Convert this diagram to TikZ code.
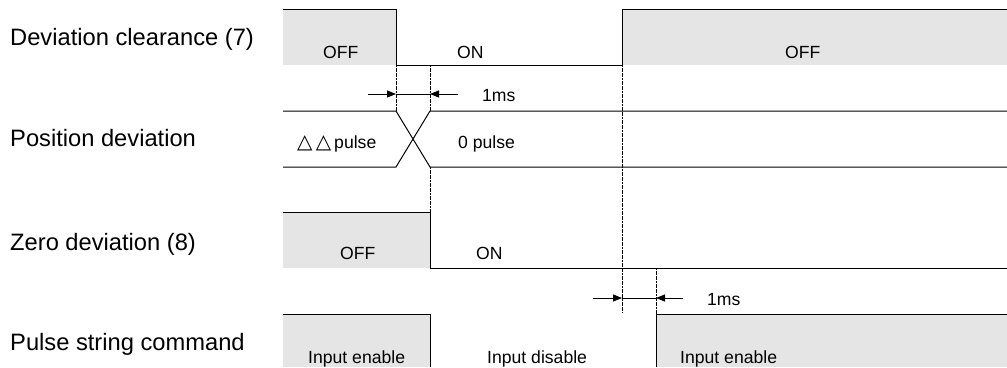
\documentclass[tikz,border=0pt]{standalone}
\usepackage{fontspec}
\setmainfont{Liberation Sans}
\newfontfamily\symfont{DejaVu Sans}
\usetikzlibrary{arrows.meta}
\begin{document}
\begin{tikzpicture}[x=1pt,y=-1pt,
  sig/.style={line width=1pt},
  guide/.style={line width=1pt, dash pattern=on 2pt off 0.6pt},
  shade/.style={fill=gray!20},
  lbl/.style={anchor=base west, inner sep=0pt, font=\fontsize{23.7}{28}\selectfont},
  sm/.style={anchor=base west, inner sep=0pt, font=\fontsize{17.6}{21}\selectfont},
  dimtip/.style={line width=0.8pt, -{Triangle[length=9pt,width=7pt]}},
  dimline/.style={line width=0.8pt}]
\useasboundingbox (0,0) rectangle (1007,367);

% key coordinates
\coordinate (a1) at (396,65);  \coordinate (a2) at (396,111);
\coordinate (b1) at (430,65);  \coordinate (b2) at (430,111);
\coordinate (b3) at (430,167); \coordinate (b4) at (430,212);
\coordinate (c1) at (622,65);  \coordinate (c2) at (622,313);
\coordinate (d1) at (656,268); \coordinate (d2) at (656,314);
\coordinate (m1s) at (368,94); \coordinate (m1a) at (396,94);
\coordinate (m1b) at (430,94); \coordinate (m1e) at (458,94);
\coordinate (m2s) at (593,298); \coordinate (m2a) at (622,298);
\coordinate (m2b) at (656,298); \coordinate (m2e) at (683,298);

% Row 1: deviation clearance
\fill[shade] (283,9) rectangle (396,65);
\fill[shade] (622,9) rectangle (1007,65);
\draw[sig] (283,9) -- (396,9) -- (a1) -- (c1) -- (622,9) -- (1007,9);

% Row 2: position deviation
\draw[sig] (283,111) -- (a2) -- (b3) -- (1007,167);
\draw[sig] (283,167) -- (396,167) -- (b2) -- (1007,111);

% Row 3: zero deviation
\fill[shade] (283,212) rectangle (430,268);
\draw[sig] (283,212) -- (b4) -- (430,268) -- (1007,268);

% Row 4: pulse string command
\fill[shade] (283,314) rectangle (430,367);
\fill[shade] (656,314) rectangle (1007,367);
\draw[sig] (283,314) -- (430,314) -- (430,367);
\draw[sig] (656,367) -- (d2) -- (1007,314);

% guide lines
\draw[guide] (a1) -- (a2);
\draw[guide] (b1) -- (b2);
\draw[guide] (b3) -- (b4);
\draw[guide] (c1) -- (c2);
\draw[guide] (d1) -- (d2);

% 1ms dimensions
\draw[dimtip] (m1s) -- (m1a);
\draw[dimline] (m1a) -- (m1b);
\draw[dimtip] (m1e) -- (m1b);
\draw[dimtip] (m2s) -- (m2a);
\draw[dimline] (m2a) -- (m2b);
\draw[dimtip] (m2e) -- (m2b);

% labels
\node[lbl] (l1) at (10,45) {Deviation clearance (7)};
\node[lbl] (l2) at (10,146) {Position deviation};
\node[lbl] (l3) at (10,250) {Zero deviation (8)};
\node[lbl] (l4) at (10,350) {Pulse string command};

% small texts
\node[sm] (t1) at (323,58) {OFF};
\node[sm] (t2) at (457,58) {ON};
\node[sm] (t3) at (785,58) {OFF};
\node[sm] (t4) at (482,101) {1ms};
\node[sm] (t5) at (297,148) {{\symfont\fontsize{20}{22}\selectfont △\,△}\,pulse};
\node[sm] (t6) at (458,148) {0 pulse};
\node[sm] (t7) at (340,259) {OFF};
\node[sm] (t8) at (476,259) {ON};
\node[sm] (t9) at (707,305) {1ms};
\node[sm] (t10) at (308,363) {Input enable};
\node[sm] (t11) at (487,363) {Input disable};
\node[sm] (t12) at (680,363) {Input enable};
\end{tikzpicture}
\end{document}
